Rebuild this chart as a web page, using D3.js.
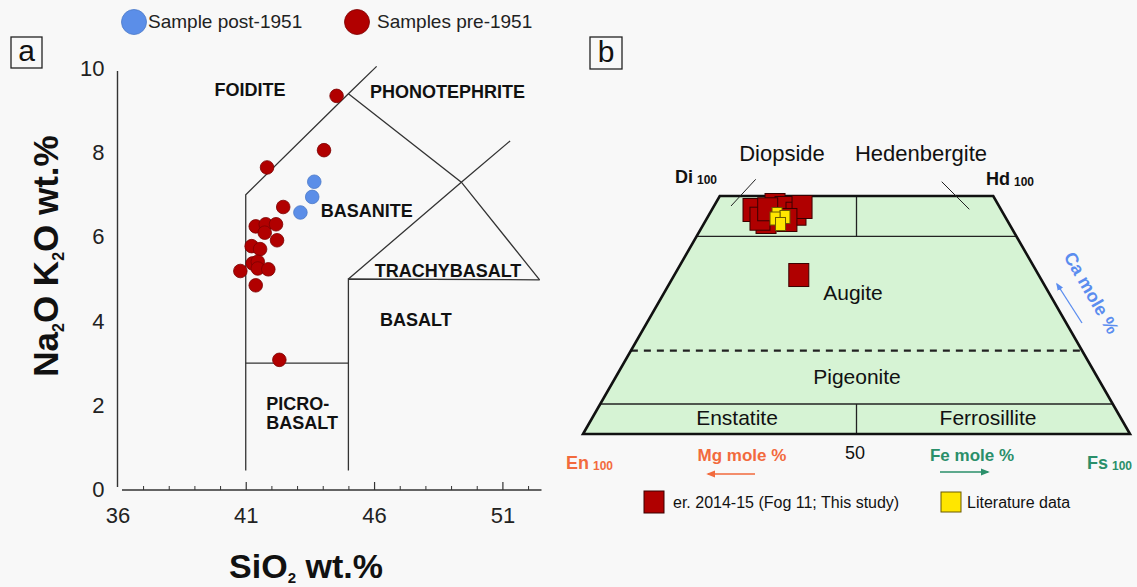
<!DOCTYPE html>
<html>
<head>
<meta charset="utf-8">
<script src="https://cdn.jsdelivr.net/npm/d3@7"></script>
<style>
  html, body { margin: 0; padding: 0; background: #f8f8f8; }
  svg { display: block; }
</style>
</head>
<body>
<svg id="fig" width="1137" height="587"></svg>
<script>
// ---------- Panel a: TAS diagram data (SiO2 wt.%, Na2O+K2O wt.%) ----------
const preSiO2   = [44.54, 44.05, 41.83, 42.46, 41.39, 41.78, 42.18, 41.74, 42.22, 41.23, 41.56, 41.27, 41.47, 41.47, 41.88, 40.79, 41.39, 42.31];
const preAlkali = [ 9.35,  8.06,  7.65,  6.71,  6.25,  6.30,  6.30,  6.10,  5.92,  5.78,  5.71,  5.37,  5.41,  5.25,  5.23,  5.19,  4.85,  3.08];
const postSiO2   = [43.67, 43.59, 43.13];
const postAlkali = [ 7.31,  6.95,  6.58];

const xTickLabels = [36, 41, 46, 51];
const xMinorTicks = [37, 38, 39, 40, 42, 43, 44, 45, 47, 48, 49, 50, 52];
const yTickLabels = [0, 2, 4, 6, 8, 10];

// field boundaries of the TAS classification
const tasBoundaries = [
  [[41, 0.45], [41, 7], [45, 9.4], [46.1, 10.05]],
  [[45, 9.4], [49.4, 7.3], [52.45, 4.98]],
  [[45, 0.45], [45, 5], [52.45, 4.98]],
  [[45, 5], [49.4, 7.3], [51.3, 8.28]],
  [[41, 3], [45, 3]]
];
const tasFieldNames = ["FOIDITE", "PHONOTEPHRITE", "BASANITE", "TRACHYBASALT", "BASALT"];
const tasFieldPos   = [[41.17, 9.35], [48.86, 9.29], [45.72, 6.47], [48.88, 5.04], [47.63, 3.89]];

// ---------- Panel b: pyroxene quadrilateral data (Wo mol%, Fs mol%) ----------
const studyWo = [47.06, 48.11, 47.48, 46.28, 47.69, 44.54, 45.23, 47.21, 44.96, 33.40];
const studyFs = [ 7.55, 11.05, 13.19, 15.80, 16.20, 11.19,  9.74, 10.16, 14.80, 22.75];
const litWo = [46.22, 45.59, 45.27, 44.12];
const litFs = [12.36, 14.13, 12.47, 14.05];
const woBoundaries = [41.5, 17.5, 6.3];   // Di/Hd | Augite | Pigeonite | En/Fs

const FONT = "Arial, 'Liberation Sans', Helvetica, sans-serif";
const svg = d3.select("#fig");
svg.append("rect").attr("width", 1137).attr("height", 587).attr("fill", "#f8f8f8");

// ================= Panel a =================
const x = d3.scaleLinear().domain([36, 51]).range([117.4, 502.4]);
const y = d3.scaleLinear().domain([0, 10]).range([489.5, 68.5]);
const gA = svg.append("g");

// legend
const legA = [
  {label: "Sample post-1951", color: "#5b8ee8", stroke: "#4a78c8", cx: 134, tx: 148},
  {label: "Samples pre-1951", color: "#b10000", stroke: "#7a0000", cx: 357, tx: 377}
];
legA.forEach(d => {
  gA.append("circle").attr("cx", d.cx).attr("cy", 22).attr("r", 12.5)
    .attr("fill", d.color).attr("stroke", d.stroke).attr("stroke-width", 0.8);
  gA.append("text").attr("x", d.tx).attr("y", 28).attr("font-family", FONT)
    .attr("font-size", 19).attr("fill", "#222").text(d.label);
});

// panel tag
gA.append("rect").attr("x", 11).attr("y", 37).attr("width", 31).attr("height", 31)
  .attr("fill", "none").attr("stroke", "#222").attr("stroke-width", 1.3);
gA.append("text").attr("x", 26.5).attr("y", 61).attr("text-anchor", "middle")
  .attr("font-family", FONT).attr("font-size", 30).attr("fill", "#111").text("a");

// axes lines
gA.append("line").attr("x1", 117.5).attr("x2", 117.5).attr("y1", 71).attr("y2", 487)
  .attr("stroke", "#333").attr("stroke-width", 1.4);
gA.append("line").attr("x1", 122).attr("x2", 541.5).attr("y1", 490).attr("y2", 490)
  .attr("stroke", "#333").attr("stroke-width", 1.4);

const xMajor = d3.axisBottom(x).tickValues(xTickLabels).tickSizeInner(-8).tickSizeOuter(0)
  .tickPadding(17).tickFormat(d3.format("d"));
const gx = gA.append("g").attr("transform", "translate(0,490)").call(xMajor);
gx.select(".domain").remove();
gx.selectAll(".tick line").attr("stroke", "#333").attr("stroke-width", 1.2);
gx.selectAll(".tick").filter(d => d === 36).select("line").remove();
gx.selectAll("text").attr("font-family", FONT).attr("font-size", 22).attr("fill", "#222");

const xMinor = d3.axisBottom(x).tickValues(xMinorTicks).tickSizeInner(-4).tickSizeOuter(0).tickFormat("");
const gxm = gA.append("g").attr("transform", "translate(0,490)").call(xMinor);
gxm.select(".domain").remove();
gxm.selectAll(".tick line").attr("stroke", "#333").attr("stroke-width", 1);

const yAxis = d3.axisLeft(y).tickValues(yTickLabels).tickSize(0).tickPadding(13).tickFormat(d3.format("d"));
const gy = gA.append("g").attr("transform", "translate(117.5,0)").call(yAxis);
gy.select(".domain").remove();
gy.selectAll("text").attr("font-family", FONT).attr("font-size", 22).attr("fill", "#222");

// axis titles
const yt = gA.append("text").attr("transform", "translate(58,256) rotate(-90)")
  .attr("text-anchor", "middle").attr("font-family", FONT).attr("font-weight", "bold")
  .attr("font-size", 35).attr("fill", "#111");
yt.append("tspan").text("Na");
yt.append("tspan").attr("font-size", 16).attr("dy", 6).text("2");
yt.append("tspan").attr("dy", -6).text("O K");
yt.append("tspan").attr("font-size", 16).attr("dy", 6).text("2");
yt.append("tspan").attr("dy", -6).text("O wt.%");

const xt = gA.append("text").attr("x", 306).attr("y", 578).attr("text-anchor", "middle")
  .attr("font-family", FONT).attr("font-weight", "bold").attr("font-size", 34).attr("fill", "#111");
xt.append("tspan").text("SiO");
xt.append("tspan").attr("font-size", 15).attr("dy", 5).text("2");
xt.append("tspan").attr("dy", -5).text(" wt.%");

// TAS field boundaries
const tasLine = d3.line().x(d => x(d[0])).y(d => y(d[1]));
gA.selectAll("path.tas").data(tasBoundaries).join("path").attr("class", "tas")
  .attr("d", tasLine).attr("fill", "none").attr("stroke", "#333").attr("stroke-width", 1.3);

// field names
gA.selectAll("text.field").data(tasFieldNames).join("text").attr("class", "field")
  .attr("x", (d, i) => x(tasFieldPos[i][0])).attr("y", (d, i) => y(tasFieldPos[i][1]))
  .attr("text-anchor", "middle").attr("font-family", FONT).attr("font-weight", "bold")
  .attr("font-size", 18).attr("fill", "#111").text(d => d);
const picro = gA.append("text").attr("font-family", FONT).attr("font-weight", "bold")
  .attr("font-size", 18).attr("fill", "#111");
picro.append("tspan").attr("x", x(41.8)).attr("y", y(1.9)).text("PICRO-");
picro.append("tspan").attr("x", x(41.8)).attr("y", y(1.43)).text("BASALT");

// samples
gA.selectAll("circle.pre").data(preSiO2).join("circle").attr("class", "pre")
  .attr("cx", (d, i) => x(d)).attr("cy", (d, i) => y(preAlkali[i])).attr("r", 6.8)
  .attr("fill", "#b10000").attr("stroke", "#7a0000").attr("stroke-width", 0.8);
gA.selectAll("circle.post").data(postSiO2).join("circle").attr("class", "post")
  .attr("cx", (d, i) => x(d)).attr("cy", (d, i) => y(postAlkali[i])).attr("r", 6.8)
  .attr("fill", "#5b8ee8").attr("stroke", "#4a78c8").attr("stroke-width", 0.8);

// ================= Panel b =================
const base = d3.scaleLinear().domain([0, 100]).range([583, 1130]); // En100 -> Fs100
const wo = d3.scaleLinear().domain([0, 50]).range([434, 196]);
const px = (w, fs) => base(fs + w / 2);
const gB = svg.append("g");

gB.append("rect").attr("x", 590).attr("y", 37).attr("width", 32).attr("height", 32)
  .attr("fill", "none").attr("stroke", "#222").attr("stroke-width", 1.3);
gB.append("text").attr("x", 606).attr("y", 62).attr("text-anchor", "middle")
  .attr("font-family", FONT).attr("font-size", 30).attr("fill", "#111").text("b");

const corners = [[0, 0], [0, 100], [50, 50], [50, 0]];
gB.append("path")
  .attr("d", d3.line()(corners.map(c => [px(c[0], c[1]), wo(c[0])])) + "Z")
  .attr("fill", "#d6f3d4").attr("stroke", "none");

// horizontal boundaries
woBoundaries.forEach((w, i) => {
  gB.append("line").attr("x1", px(w, 0)).attr("x2", px(w, 100 - w))
    .attr("y1", wo(w)).attr("y2", wo(w)).attr("stroke", "#222")
    .attr("stroke-width", i === 1 ? 2.2 : 1.3)
    .attr("stroke-dasharray", i === 1 ? "7,6" : null);
});
// En = Fs dividers
gB.append("line").attr("x1", base(50)).attr("x2", base(50)).attr("y1", wo(50)).attr("y2", wo(woBoundaries[0]))
  .attr("stroke", "#222").attr("stroke-width", 1.3);
gB.append("line").attr("x1", base(50)).attr("x2", base(50)).attr("y1", wo(woBoundaries[2])).attr("y2", wo(0))
  .attr("stroke", "#222").attr("stroke-width", 1.3);

// outline
gB.append("path")
  .attr("d", d3.line()(corners.map(c => [px(c[0], c[1]), wo(c[0])])) + "Z")
  .attr("fill", "none").attr("stroke", "#111").attr("stroke-width", 2.6).attr("stroke-linejoin", "miter");

// field names
const fieldB = [
  {t: "Augite", x: 853, y: 300, s: 21},
  {t: "Pigeonite", x: 857, y: 384, s: 21},
  {t: "Enstatite", x: 737, y: 425, s: 21},
  {t: "Ferrosillite", x: 988, y: 425, s: 21},
  {t: "Diopside", x: 782, y: 161, s: 22},
  {t: "Hedenbergite", x: 921, y: 161, s: 22}
];
gB.selectAll("text.fb").data(fieldB).join("text").attr("class", "fb")
  .attr("x", d => d.x).attr("y", d => d.y).attr("text-anchor", "middle")
  .attr("font-family", FONT).attr("font-size", d => d.s).attr("fill", "#111").text(d => d.t);

// leaders
gB.append("line").attr("x1", 755.7).attr("y1", 179.3).attr("x2", 731).attr("y2", 206)
  .attr("stroke", "#222").attr("stroke-width", 1);
gB.append("line").attr("x1", 941.7).attr("y1", 181.7).attr("x2", 969.3).attr("y2", 209.3)
  .attr("stroke", "#222").attr("stroke-width", 1);

// end-member labels
function endMember(label, xx, yy, color, size) {
  const t = gB.append("text").attr("x", xx).attr("y", yy).attr("font-family", FONT)
    .attr("font-weight", "bold").attr("font-size", size).attr("fill", color);
  t.append("tspan").text(label);
  t.append("tspan").attr("font-size", 12).attr("dx", 4).attr("dy", 1).text("100");
}
endMember("Di", 675, 183, "#111", 18);
endMember("Hd", 986, 185, "#111", 18);
endMember("En", 566, 469, "#f26a3d", 18);
endMember("Fs", 1087, 469, "#2a8f6a", 18);

gB.append("text").attr("x", 742).attr("y", 461).attr("text-anchor", "middle")
  .attr("font-family", FONT).attr("font-weight", "bold").attr("font-size", 17)
  .attr("fill", "#f26a3d").text("Mg mole %");
gB.append("text").attr("x", 972).attr("y", 461).attr("text-anchor", "middle")
  .attr("font-family", FONT).attr("font-weight", "bold").attr("font-size", 17)
  .attr("fill", "#2a8f6a").text("Fe mole %");
gB.append("text").attr("x", 855).attr("y", 459).attr("text-anchor", "middle")
  .attr("font-family", FONT).attr("font-size", 18).attr("fill", "#111").text("50");

// arrows
const defs = svg.append("defs");
[["arO", "#f26a3d"], ["arG", "#2a8f6a"], ["arB", "#5b8def"]].forEach(([id, c]) => {
  defs.append("marker").attr("id", id).attr("viewBox", "0 0 10 10").attr("refX", 8).attr("refY", 5)
    .attr("markerWidth", 6).attr("markerHeight", 6).attr("orient", "auto")
    .append("path").attr("d", "M0,1 L10,5 L0,9 Z").attr("fill", c);
});
gB.append("line").attr("x1", 755).attr("y1", 474).attr("x2", 708).attr("y2", 474)
  .attr("stroke", "#f26a3d").attr("stroke-width", 1.5).attr("marker-end", "url(#arO)");
gB.append("line").attr("x1", 940).attr("y1", 472).attr("x2", 988).attr("y2", 472)
  .attr("stroke", "#2a8f6a").attr("stroke-width", 1.5).attr("marker-end", "url(#arG)");
gB.append("line").attr("x1", 1082).attr("y1", 323).attr("x2", 1057).attr("y2", 284)
  .attr("stroke", "#5b8def").attr("stroke-width", 1.3).attr("marker-end", "url(#arB)");
gB.append("text").attr("transform", "translate(1086,296) rotate(60)").attr("text-anchor", "middle")
  .attr("font-family", FONT).attr("font-weight", "bold").attr("font-size", 18)
  .attr("fill", "#5b8def").text("Ca mole %");

// compositions
const RW = 20, RH = 23, YW = 10, YH = 13;
gB.selectAll("rect.study").data(studyWo).join("rect").attr("class", "study")
  .attr("x", (d, i) => px(d, studyFs[i]) - RW / 2).attr("y", d => wo(d) - RH / 2)
  .attr("width", RW).attr("height", RH)
  .attr("fill", "#b00000").attr("stroke", "#3a0000").attr("stroke-width", 1);
gB.selectAll("rect.lit").data(litWo).join("rect").attr("class", "lit")
  .attr("x", (d, i) => px(d, litFs[i]) - YW / 2).attr("y", d => wo(d) - YH / 2)
  .attr("width", YW).attr("height", YH)
  .attr("fill", "#ffe600").attr("stroke", "#6b5a00").attr("stroke-width", 1);

// legend
gB.append("rect").attr("x", 644).attr("y", 491).attr("width", 20).attr("height", 22)
  .attr("fill", "#b00000").attr("stroke", "#3a0000").attr("stroke-width", 1);
gB.append("text").attr("x", 673).attr("y", 508).attr("font-family", FONT).attr("font-size", 16)
  .attr("fill", "#111").text("er. 2014-15 (Fog 11; This study)");
gB.append("rect").attr("x", 941).attr("y", 492).attr("width", 20).attr("height", 20)
  .attr("fill", "#ffe600").attr("stroke", "#6b5a00").attr("stroke-width", 1);
gB.append("text").attr("x", 967).attr("y", 508).attr("font-family", FONT).attr("font-size", 16)
  .attr("fill", "#111").text("Literature data");
</script>
</body>
</html>
